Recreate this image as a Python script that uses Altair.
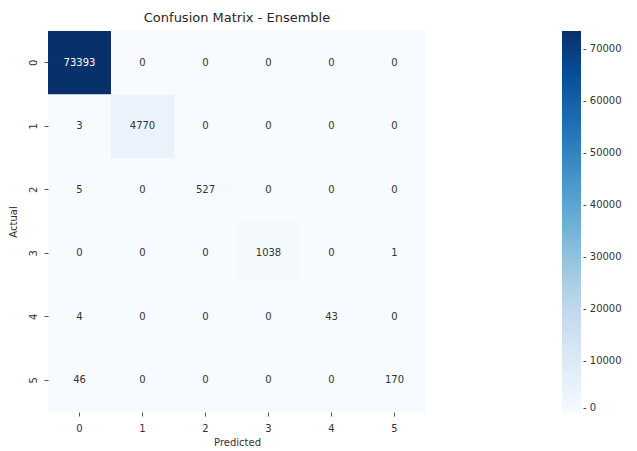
import altair as alt
import pandas as pd

classes = ["0", "1", "2", "3", "4", "5"]
matrix = [
    [73393, 0, 0, 0, 0, 0],
    [3, 4770, 0, 0, 0, 0],
    [5, 0, 527, 0, 0, 0],
    [0, 0, 0, 1038, 0, 1],
    [4, 0, 0, 0, 43, 0],
    [46, 0, 0, 0, 0, 170],
]
cbar_ticks = [0, 10000, 20000, 30000, 40000, 50000, 60000, 70000]
blues = ["#f7fbff", "#deebf7", "#c6dbef", "#9ecae1", "#6baed6",
         "#4292c6", "#2171b5", "#08519c", "#08306b"]

rows = []
for i, a in enumerate(classes):
    for j, p in enumerate(classes):
        rows.append({"Actual": a, "Predicted": p, "count": matrix[i][j]})
df = pd.DataFrame(rows)

vmax = max(max(r) for r in matrix)
domain = [vmax * k / (len(blues) - 1) for k in range(len(blues))]

FONT = "DejaVu Sans"

base = alt.Chart(df)

rect = base.mark_rect().encode(
    x=alt.X("Predicted:O", sort=classes, title="Predicted",
            scale=alt.Scale(paddingInner=0, paddingOuter=0),
            axis=alt.Axis(labelAngle=0, domain=False, tickSize=4, tickColor="#555555",
                          labelFontSize=10, titleFontSize=10, labelPadding=7,
                          titlePadding=4, labelColor="#333333", titleColor="#333333",
                          titleFontWeight="normal", labelFont=FONT, titleFont=FONT)),
    y=alt.Y("Actual:O", sort=classes, title="Actual",
            scale=alt.Scale(paddingInner=0, paddingOuter=0),
            axis=alt.Axis(labelAngle=-90, domain=False, tickSize=4, tickColor="#555555",
                          labelFontSize=10, titleFontSize=10, labelPadding=11,
                          titlePadding=10, labelColor="#333333", titleColor="#333333",
                          titleFontWeight="normal", labelFont=FONT, titleFont=FONT,
                          labelBaseline="middle", labelAlign="center")),
    color=alt.Color("count:Q",
                    scale=alt.Scale(domain=domain, range=blues),
                    legend=alt.Legend(orient="none", legendX=514, legendY=0,
                                      direction="vertical", title=None,
                                      gradientLength=382, gradientThickness=19,
                                      values=cbar_ticks, labelFontSize=10,
                                      labelFont=FONT, labelColor="#333333",
                                      labelExpr="'- ' + datum.label",
                                      labelOffset=2, gradientStrokeWidth=0,
                                      format="d")),
)

text = base.mark_text(fontSize=10, font=FONT).encode(
    x=alt.X("Predicted:O", sort=classes),
    y=alt.Y("Actual:O", sort=classes),
    text=alt.Text("count:Q", format="d"),
    color=alt.condition(alt.datum.count > vmax / 2, alt.value("white"), alt.value("#333333")),
)

chart = (rect + text).properties(
    width=378, height=381,
    title=alt.Title("Confusion Matrix - Ensemble", fontSize=13, font=FONT,
                    fontWeight="normal", color="#262626", offset=6),
    autosize=alt.AutoSizeParams(type="none"),
    padding={"left": 48, "top": 31, "right": 211, "bottom": 39},
).configure_view(stroke=None).configure_axis(grid=False)

chart.save("out.html", embed_options={"renderer": "svg", "actions": False})
